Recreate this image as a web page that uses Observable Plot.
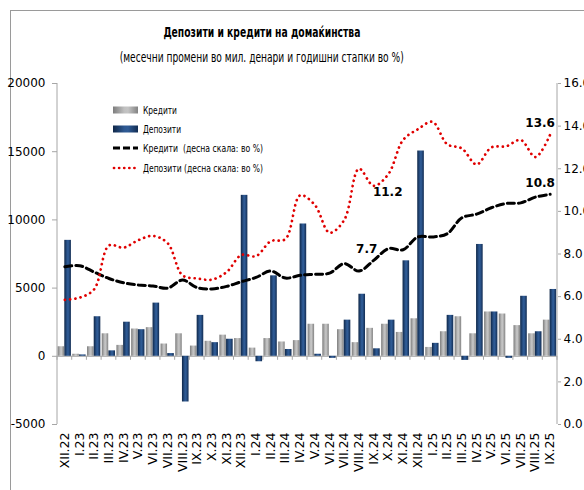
<!DOCTYPE html>
<html>
<head>
<meta charset="utf-8">
<script src="https://cdn.jsdelivr.net/npm/d3@7"></script>
<script src="https://cdn.jsdelivr.net/npm/@observablehq/plot@0.6"></script>
<style>
  html, body { margin: 0; padding: 0; background: #fff; }
  #wrap { position: relative; width: 584px; height: 490px; overflow: hidden; background: #fff;
          font-family: "DejaVu Sans", sans-serif; }
  #border { position: absolute; left: 10px; top: 10px; width: 600px; height: 600px;
            border-left: 1px solid #9a9a9a; border-top: 1px solid #9a9a9a; }
  .title { position: absolute; left: 0; width: 524px; text-align: center; color: #000; white-space: nowrap; line-height: 1.2; }
  .title span { display: inline-block; transform-origin: 50% 50%; }
  #t1 { top: 24px; font-size: 14.5px; font-weight: bold; }
  #t2 { top: 49px; font-size: 13.5px; }
  #chart { position: absolute; left: 0; top: 0; }
</style>
</head>
<body>
<div id="wrap">
  <div id="border"></div>
  <div class="title" id="t1"><span>Депозити и кредити на домаќинства</span></div>
  <div class="title" id="t2"><span>(месечни промени во мил. денари и годишни стапки во %)</span></div>
  <div id="chart"></div>
</div>
<script>
// ---- data ----
const months = ["XII.22","I.23","II.23","III.23","IV.23","V.23","VI.23","VII.23","VIII.23","IX.23","X.23","XI.23",
  "XII.23","I.24","II.24","III.24","IV.24","V.24","VI.24","VII.24","VIII.24","IX.24","X.24","XI.24",
  "XII.24","I.25","II.25","III.25","IV.25","V.25","VI.25","VII.25","VIII.25","IX.25"];
// monthly changes, mil. denars (left scale)
const credits = [700,150,700,1650,800,2000,2100,900,1650,750,1100,1550,
  1300,600,1300,1050,1150,2350,2350,1950,1000,2050,2350,1750,
  2750,650,1800,2900,1650,3250,3100,2250,1650,2650];
const deposits = [8500,100,2900,400,2500,1950,3900,200,-3350,3000,1000,1250,
  11800,-400,5900,500,9700,150,-150,2650,4550,550,2650,7000,
  15050,950,3000,-300,8200,3250,-150,4400,1800,4900];
// annual growth rates, % (right scale)
const creditGrowth = [7.4,7.45,7.15,6.85,6.65,6.55,6.5,6.4,6.78,6.42,6.36,6.48,
  6.7,6.9,7.2,6.87,7.0,7.05,7.1,7.55,7.2,7.7,8.25,8.2,
  8.8,8.8,8.95,9.7,9.87,10.17,10.37,10.4,10.67,10.8];
const depositGrowth = [5.85,5.95,6.35,8.4,8.3,8.65,8.85,8.5,7.0,6.85,6.8,7.15,
  7.95,7.9,8.6,8.7,10.75,10.3,9.0,9.6,12.0,11.2,11.75,13.35,
  13.85,14.2,13.15,12.95,12.2,13.0,13.05,13.35,12.55,13.6];
// labelled points
const labelMonths = ["IX.24","IX.25","IX.24","IX.25"];
const labelSeries = ["credit","credit","deposit","deposit"];
const labelTexts  = ["7.7","10.8","11.2","13.6"];
const leftTicks = [-5000,0,5000,10000,15000,20000];
const rightTicks = [0,2,4,6,8,10,12,14,16];
const legendLabels = ["Кредити","Депозити","Кредити  (десна скала: во %)","Депозити (десна скала: во %)"];

// ---- helpers ----
const LMIN = -5000, LMAX = 20000, RMAX = 16;
const toL = r => LMIN + r * (LMAX - LMIN) / RMAX;
const rows = months.map((m, i) => ({m, credit: credits[i], deposit: deposits[i], cg: creditGrowth[i], dg: depositGrowth[i]}));
const labels = labelTexts.map((t, i) => {
  const idx = months.indexOf(labelMonths[i]);
  return {m: labelMonths[i], s: labelSeries[i], t, v: labelSeries[i] === "credit" ? creditGrowth[idx] : depositGrowth[idx]};
});
const FONT = '"DejaVu Sans", sans-serif';
const AX = "#a6a6a6";

const plot = Plot.plot({
  width: 584, height: 490,
  marginLeft: 57, marginRight: 27, marginTop: 83, marginBottom: 66,
  style: {fontFamily: FONT, fontSize: "12px", background: "transparent", color: "#000", overflow: "visible"},
  x: {type: "band", domain: months, padding: 0, round: false, label: null},
  y: {domain: [LMIN, LMAX], label: null},
  marks: [
    Plot.ruleY([0], {stroke: AX, strokeWidth: 1}),
    Plot.barY(rows, {x: "m", y: "credit", fill: "url(#gGray)", insetLeft: 0.6, insetRight: 7.6}),
    Plot.barY(rows, {x: "m", y: "deposit", fill: "url(#gBlue)", insetLeft: 7.3, insetRight: 0.8}),
    Plot.line(rows, {x: "m", y: d => toL(d.cg), curve: "catmull-rom", stroke: "#000", strokeWidth: 3, strokeDasharray: "7,4"}),
    Plot.line(rows, {x: "m", y: d => toL(d.dg), curve: "catmull-rom", stroke: "#e00000", strokeWidth: 2.7, strokeDasharray: "0.1,5.2", strokeLinecap: "round"}),
    Plot.text(labels.filter(d => d.s === "credit" && d.m === "IX.24"), {x: "m", y: d => toL(d.v), text: "t", dx: -7, dy: -11, fontWeight: "bold", fontSize: 12}),
    Plot.text(labels.filter(d => d.s === "deposit" && d.m === "IX.24"), {x: "m", y: d => toL(d.v), text: "t", dx: 14, dy: 6, fontWeight: "bold", fontSize: 12}),
    Plot.text(labels.filter(d => d.m === "IX.25"), {x: "m", y: d => toL(d.v), text: "t", dx: -10, dy: -11, fontWeight: "bold", fontSize: 12}),
    Plot.axisY({anchor: "left", ticks: leftTicks, tickSize: 5, tickPadding: 7, tickFormat: d => String(d), stroke: AX, label: null, fontSize: 12}),
    Plot.axisY(rightTicks.map(toL), {anchor: "right", tickSize: 3, tickPadding: 3, tickFormat: v => ((v - LMIN) * RMAX / (LMAX - LMIN)).toFixed(1), stroke: AX, label: null, fontSize: 12}),
    Plot.axisX({anchor: "bottom", tickRotate: -90, tickSize: 0, tickPadding: 8, label: null, fontSize: 12.5})
  ]
});
document.getElementById("chart").appendChild(plot);

// ---- decorations: gradients, axis lines, category ticks, legend ----
const svg = d3.select(plot);
const defs = svg.insert("defs", ":first-child");
function grad(id, stops) {
  const g = defs.append("linearGradient").attr("id", id).attr("x1", "0%").attr("x2", "100%").attr("y1", "0%").attr("y2", "0%");
  stops.forEach(([o, c]) => g.append("stop").attr("offset", o).attr("stop-color", c));
}
grad("gGray", [["0%", "#7d7d7d"], ["45%", "#c0c0c0"], ["60%", "#c4c4c4"], ["100%", "#828282"]]);
grad("gBlue", [["0%", "#0f2748"], ["45%", "#2d5891"], ["60%", "#2f5b95"], ["100%", "#122c52"]]);

const xs = plot.scale("x"), ys = plot.scale("y");
const x0 = xs.range[0], x1 = xs.range[1];
const yTop = ys.apply(LMAX), yBot = ys.apply(LMIN), yZero = ys.apply(0);
const deco = svg.append("g").attr("stroke", AX).attr("stroke-width", 1);
deco.append("line").attr("x1", x0).attr("x2", x0).attr("y1", yTop).attr("y2", yBot);
deco.append("line").attr("x1", x1).attr("x2", x1).attr("y1", yTop).attr("y2", yBot);
const bw = (x1 - x0) / months.length;
d3.range(months.length + 1).forEach(i => {
  const xx = x0 + i * bw;
  deco.append("line").attr("x1", xx).attr("x2", xx).attr("y1", yZero).attr("y2", yZero + 4);
});

const lg = svg.append("g").attr("font-family", FONT).attr("font-size", 10.5).attr("fill", "#000").attr("text-anchor", "start");
const lx = 113, lw = 25, ly = [110, 129, 148, 168];
const lwidths = [34, 38, 120, 120];
lg.append("rect").attr("x", lx).attr("y", ly[0] - 3.5).attr("width", lw).attr("height", 7).attr("fill", "url(#gGray)");
lg.append("rect").attr("x", lx).attr("y", ly[1] - 3.5).attr("width", lw).attr("height", 7).attr("fill", "url(#gBlue)");
lg.append("line").attr("x1", lx).attr("x2", lx + lw).attr("y1", ly[2]).attr("y2", ly[2]).attr("stroke", "#000").attr("stroke-width", 3).attr("stroke-dasharray", "7,3");
lg.append("line").attr("x1", lx + 1).attr("x2", lx + lw).attr("y1", ly[3]).attr("y2", ly[3]).attr("stroke", "#e00000").attr("stroke-width", 2.7).attr("stroke-dasharray", "0.1,5").attr("stroke-linecap", "round");
legendLabels.forEach((t, i) => lg.append("text").attr("x", lx + lw + 5).attr("y", ly[i]).attr("dy", "0.35em")
  .attr("textLength", lwidths[i]).attr("lengthAdjust", "spacingAndGlyphs").text(t));

// narrow the title lines to the reference widths
[["#t1 span", 197], ["#t2 span", 284]].forEach(([sel, w]) => {
  const el = document.querySelector(sel);
  const cur = el.getBoundingClientRect().width;
  if (cur > 0) el.style.transform = `scaleX(${w / cur})`;
});
</script>
</body>
</html>
